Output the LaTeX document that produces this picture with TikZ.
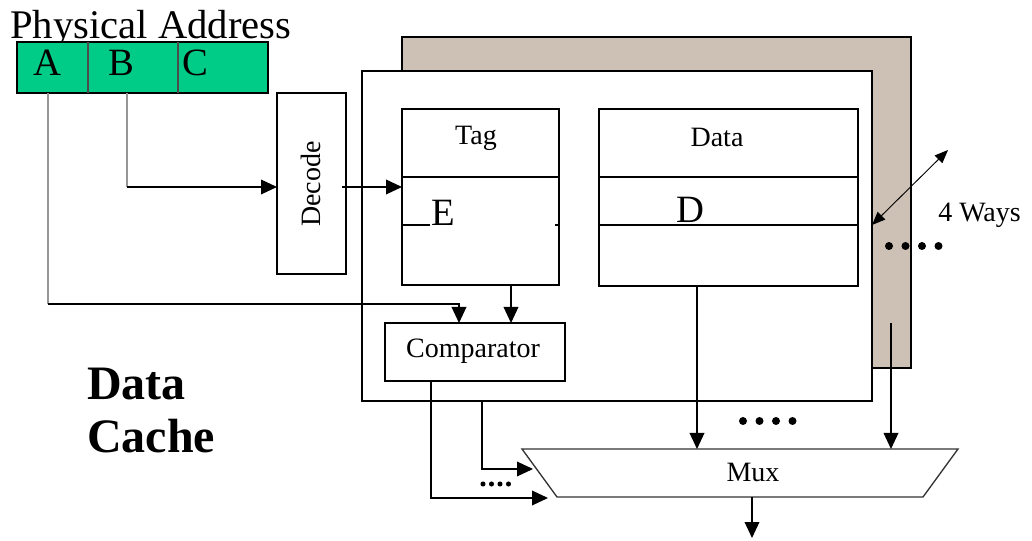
\documentclass[tikz,border=0pt]{standalone}
\usepackage{fontspec}
\setmainfont{Liberation Serif}
\usetikzlibrary{arrows.meta,fit}
\definecolor{addrgreen}{RGB}{0,204,136}
\definecolor{waybrown}{RGB}{204,193,180}
\definecolor{wiregray}{RGB}{150,150,150}
\begin{document}
\begin{tikzpicture}[x=0.75pt,y=-0.75pt,
  box/.style={draw, line width=1pt, inner sep=0pt},
  lbl/.style={font=\fontsize{21}{24}\selectfont, inner sep=0pt},
  biglbl/.style={font=\fontsize{29}{32}\selectfont, inner sep=0pt, anchor=base},
  arr/.style={line width=1pt, -{Triangle[length=12pt,width=11pt]}},
  thinarr/.style={line width=0.7pt, {Triangle[length=10pt,width=8pt]}-{Triangle[length=10pt,width=8pt]}},
  wire/.style={line width=1pt},
  gwire/.style={line width=1.3pt, draw=wiregray},
  bigdot/.style={circle, fill, inner sep=0pt, minimum size=6pt},
  smalldot/.style={circle, fill, inner sep=0pt, minimum size=3.8pt}]
\useasboundingbox (0,0) rectangle (1032,541);

% Physical address
\node[anchor=base west, font=\fontsize{30.5}{34}\selectfont, inner sep=0pt] (pa) at (10,38.5) {Physical Address};
\node[box, fill=addrgreen, fit={(17,42) (268,93)}] (addr) {};
\coordinate (div1t) at (88,42); \coordinate (div1b) at (88,93);
\coordinate (div2t) at (178,42); \coordinate (div2b) at (178,93);
\draw[line width=1pt, draw=black!70] (div1t) -- (div1b);
\draw[line width=1pt, draw=black!70] (div2t) -- (div2b);
\node[biglbl] (fa) at (47,76) {A};
\node[biglbl] (fb) at (121,76) {B};
\node[biglbl] (fc) at (195,76) {C};

% ways
\node[box, fill=waybrown, fit={(402,37) (911,368)}] (way2) {};
\node[box, fill=white, fit={(362,71) (872,401)}] (way1) {};

% tag array
\node[box, fit={(402,109) (559,285)}] (tag) {};
\coordinate (tagd1l) at (402,177); \coordinate (tagd1r) at (559,177);
\coordinate (tagd2l) at (402,225); \coordinate (tagd2m) at (430,225);
\coordinate (tagd2n) at (555,225); \coordinate (tagd2r) at (559,225);
\draw[wire] (tagd1l) -- (tagd1r);
\draw[wire] (tagd2l) -- (tagd2m);
\draw[wire] (tagd2n) -- (tagd2r);
\node[lbl] (taglbl) at (476,138) {Tag};
\node[biglbl] (elbl) at (443,226) {E};

% data array
\node[box, fit={(599,109) (858,286)}] (data) {};
\coordinate (datd1l) at (599,177); \coordinate (datd1r) at (858,177);
\coordinate (datd2l) at (599,225); \coordinate (datd2r) at (858,225);
\draw[wire] (datd1l) -- (datd1r);
\draw[wire] (datd2l) -- (datd2r);
\node[lbl] (datalbl) at (717,137) {Data};
\node[biglbl] (dlbl) at (690,223) {D};

% decode
\node[box, fit={(277,93) (346,274)}] (dec) {};
\node[lbl, rotate=90] (declbl) at (311,184) {Decode};

% comparator
\node[box, fit={(385,323) (565,381)}] (cmp) {};
\node[lbl] (cmplbl) at (473,351) {Comparator};

% mux
\coordinate (m1) at (522,449); \coordinate (m2) at (958,449);
\coordinate (m3) at (923,497); \coordinate (m4) at (557,497);
\draw[line width=1pt, draw=black!80] (m1) -- (m2) -- (m3) -- (m4) -- cycle;
\node[lbl] (mux) at (753,472) {Mux};

% wires from address
\coordinate (aTop) at (48,93); \coordinate (aBend) at (48,304);
\coordinate (cmpInA) at (459,323);
\draw[gwire] (aTop) -- (aBend);
\draw[arr] (aBend) -| (cmpInA);
\coordinate (bTop) at (127,93); \coordinate (bBend) at (127,187);
\coordinate (decIn) at (277,187);
\draw[gwire] (bTop) -- (bBend);
\draw[arr] (bBend) -- (decIn);
\coordinate (decOut) at (342,187); \coordinate (tagIn) at (402,187);
\draw[arr] (decOut) -- (tagIn);

% tag -> comparator
\coordinate (tagOut) at (511,285); \coordinate (cmpInT) at (511,323);
\draw[arr] (tagOut) -- (cmpInT);

% data -> mux
\coordinate (dataOut) at (697,286); \coordinate (muxIn1) at (697,449);
\draw[arr] (dataOut) -- (muxIn1);
\coordinate (way2Out) at (891,323); \coordinate (muxIn2) at (891,449);
\draw[arr] (way2Out) -- (muxIn2);

% comparator -> mux select
\coordinate (cmpOut) at (431,381); \coordinate (selB) at (548,498);
\draw[arr] (cmpOut) |- (selB);
\coordinate (way1Out) at (482,401); \coordinate (selA) at (533,469);
\draw[arr] (way1Out) |- (selA);

% mux out
\coordinate (muxOut) at (752,497); \coordinate (muxEnd) at (752,538);
\draw[arr] (muxOut) -- (muxEnd);

% 4 ways
\coordinate (wA) at (872,225); \coordinate (wB) at (948,150);
\draw[thinarr] (wA) -- (wB);
\node[lbl, anchor=base west] (ways) at (938,222) {4 Ways};

% dots
\foreach \i in {0,1,2,3} {
  \node[bigdot] (dw\i) at (889+16.5*\i,246) {};
  \node[bigdot] (dm\i) at (743+16.5*\i,421) {};
  \node[smalldot] (ds\i) at (483+8.5*\i,484) {};
}

% title
\node[anchor=base west, font=\bfseries\fontsize{36}{40}\selectfont, inner sep=0pt] (t1) at (87,400) {Data};
\node[anchor=base west, font=\bfseries\fontsize{36}{40}\selectfont, inner sep=0pt] (t2) at (87,453) {Cache};
\end{tikzpicture}
\end{document}
